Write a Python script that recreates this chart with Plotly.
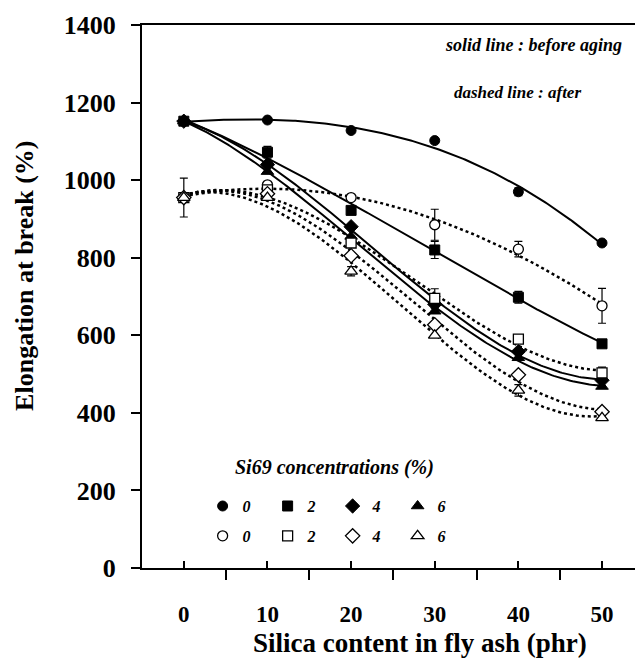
import numpy as np
import plotly.graph_objects as go

# ---- data ----
silica = [0, 10, 20, 30, 40, 50]
x_tick_labels = ["0", "10", "20", "30", "40", "50"]
y_ticks = [0, 200, 400, 600, 800, 1000, 1200, 1400]
si69_labels = ["0", "2", "4", "6"]

before_0 = [1152, 1155, 1128, 1102, 970, 838]
before_2 = [1152, 1072, 922, 820, 698, 578]
before_4 = [1152, 1040, 880, 680, 558, 484]
before_6 = [1152, 1022, 855, 662, 542, 468]

after_0 = [955, 988, 955, 885, 822, 676]
after_2 = [955, 975, 838, 695, 590, 503]
after_4 = [955, 965, 805, 627, 498, 403]
after_6 = [955, 955, 765, 600, 458, 387]

err_before_0 = [0, 0, 0, 0, 10, 0]
err_before_2 = [0, 15, 0, 22, 15, 0]
err_before_4 = [0, 0, 0, 0, 0, 0]
err_before_6 = [0, 0, 0, 0, 0, 0]
err_after_0 = [50, 0, 0, 40, 20, 45]
err_after_2 = [0, 0, 0, 25, 0, 15]
err_after_4 = [0, 0, 0, 0, 0, 0]
err_after_6 = [0, 0, 12, 0, 15, 0]

FONT = "Liberation Serif"
symbols = ["circle", "square", "diamond", "triangle-up"]
sizes = [10, 10, 11, 11]

before = [before_0, before_2, before_4, before_6]
after = [after_0, after_2, after_4, after_6]
err_b = [err_before_0, err_before_2, err_before_4, err_before_6]
err_a = [err_after_0, err_after_2, err_after_4, err_after_6]

fig = go.Figure()
xs = np.linspace(0, 50, 200)

# trendlines (polynomial fits of each series)
for i in range(4):
    cb = np.polyfit(silica, before[i], 3)
    fig.add_trace(go.Scatter(x=xs, y=np.polyval(cb, xs), mode="lines",
                             line=dict(color="black", width=2), showlegend=False,
                             hoverinfo="skip"))
    ca = np.polyfit(silica, after[i], 3)
    fig.add_trace(go.Scatter(x=xs, y=np.polyval(ca, xs), mode="lines",
                             line=dict(color="black", width=2.5, dash="3px,3px"),
                             showlegend=False, hoverinfo="skip"))

# markers
for i in range(4):
    fig.add_trace(go.Scatter(
        x=silica, y=before[i], mode="markers", name=si69_labels[i],
        marker=dict(symbol=symbols[i], size=sizes[i], color="black",
                    line=dict(color="black", width=1)),
        error_y=dict(type="data", array=err_b[i], color="black", thickness=1.2, width=4),
        legend="legend"))
for i in range(4):
    fig.add_trace(go.Scatter(
        x=silica, y=after[i], mode="markers", name=si69_labels[i],
        marker=dict(symbol=symbols[i], size=sizes[i], color="white",
                    line=dict(color="black", width=1.3)),
        error_y=dict(type="data", array=err_a[i], color="black", thickness=1.2, width=4),
        legend="legend2"))

legend_common = dict(orientation="h", bgcolor="rgba(0,0,0,0)", borderwidth=0,
                     font=dict(family=FONT, size=16, color="black", weight="bold", style="italic"),
                     entrywidth=20, entrywidthmode="pixels", itemwidth=30,
                     xanchor="left", yanchor="middle", tracegroupgap=0)

# the page body adds an 8px offset, so the figure is 8px smaller than the window
fig.update_layout(
    width=635, height=658,
    margin=dict(l=134, r=0, t=17, b=98),
    plot_bgcolor="white", paper_bgcolor="white",
    font=dict(family=FONT, color="black"),
    legend=dict(x=0.121, y=0.114, **legend_common),
    legend2=dict(x=0.121, y=0.059, **legend_common),
    xaxis=dict(range=[-5, 54.9], showline=True, linecolor="black", linewidth=2, mirror=True,
               showgrid=False, zeroline=False,
               tickmode="array", tickvals=silica, ticktext=x_tick_labels,
               ticks="inside", ticklen=7, tickwidth=2, tickcolor="black",
               ticklabelstandoff=24,
               tickfont=dict(family=FONT, size=23, weight="bold", color="black"),
               minor=dict(tickmode="linear", tick0=-5, dtick=10, ticks="outside",
                          ticklen=10, tickwidth=2, tickcolor="black", showgrid=False)),
    yaxis=dict(range=[0, 1400], showline=True, linecolor="black", linewidth=2,
               showgrid=False, zeroline=False,
               tickmode="array", tickvals=y_ticks,
               ticks="outside", ticklen=9, tickwidth=2, tickcolor="black",
               ticklabelstandoff=10,
               tickfont=dict(family=FONT, size=26, weight="bold", color="black")),
    annotations=[
        dict(text="Silica content in fly ash (phr)", xref="paper", yref="paper",
             x=0.555, y=-0.138, xanchor="center", yanchor="middle", showarrow=False,
             font=dict(family=FONT, size=27, weight="bold", color="black")),
        dict(text="Elongation at break (%)", xref="paper", yref="paper", textangle=-90,
             x=-0.2335, y=0.538, xanchor="center", yanchor="middle", showarrow=False,
             font=dict(family=FONT, size=26, weight="bold", color="black")),
        dict(text="solid line : before aging", xref="paper", yref="paper",
             x=0.782, y=0.963, xanchor="center", yanchor="middle", showarrow=False,
             font=dict(family=FONT, size=18, weight="bold", style="italic", color="black")),
        dict(text="dashed line : after", xref="paper", yref="paper",
             x=0.749, y=0.875, xanchor="center", yanchor="middle", showarrow=False,
             font=dict(family=FONT, size=17, weight="bold", style="italic", color="black")),
        dict(text="Si69 concentrations (%)", xref="paper", yref="paper",
             x=0.385, y=0.186, xanchor="center", yanchor="middle", showarrow=False,
             font=dict(family=FONT, size=20, weight="bold", style="italic", color="black")),
    ],
)

fig.write_html("out.html")
